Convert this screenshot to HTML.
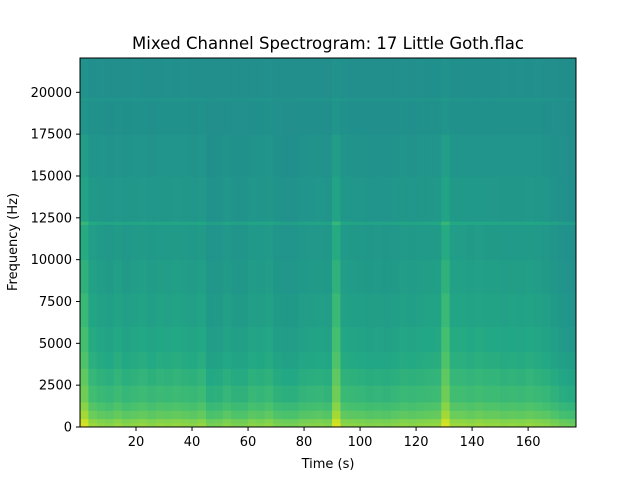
<!DOCTYPE html>
<html><head><meta charset="utf-8"><style>
body{margin:0;background:#fff;font-family:"Liberation Sans","DejaVu Sans",sans-serif}
svg text{font-family:"DejaVu Sans","Liberation Sans",sans-serif;fill:#000}
</style></head><body>
<svg id="chart" width="640" height="480" viewBox="0 0 640 480">
<rect width="640" height="480" fill="#fff"/>
<text x="328" y="49" font-size="16.5" text-anchor="middle">Mixed Channel Spectrogram: 17 Little Goth.flac</text>
<g id="cells"></g>
<rect x="80" y="58" width="496" height="369" fill="none" stroke="#000" stroke-width="1"/>
<g id="axes"></g>
<text x="328" y="468" font-size="13" text-anchor="middle">Time (s)</text>
<text transform="translate(17,242) rotate(-90)" font-size="13" text-anchor="middle">Frequency (Hz)</text>
</svg>
<script>
const timeLevel=[1.0,0.55,0.45,0.4,0.5,0.4,0.45,0.5,0.42,0.48,0.45,0.5,0.45,0.42,0.5,0.25,0.28,0.4,0.3,0.3,0.42,0.38,0.45,0.3,0.25,0.25,0.35,0.38,0.4,0.35,1.0,0.45,0.42,0.4,0.35,0.38,0.35,0.4,0.45,0.42,0.45,0.48,0.5,1.0,0.55,0.55,0.5,0.55,0.5,0.5,0.45,0.48,0.45,0.5,0.45,0.4,0.3,0.2,0.15];
const freqEdges=[0,250,500,1000,1500,2500,3500,4500,6000,8000,10000,12100,12300,15000,17500,19500,19700,22050];
const freqBase=[0.74,0.72,0.66,0.62,0.58,0.55,0.52,0.5,0.49,0.48,0.48,0.53,0.48,0.48,0.485,0.5,0.485];
const freqGain=[0.2,0.2,0.2,0.2,0.2,0.2,0.2,0.2,0.18,0.16,0.13,0.13,0.1,0.07,0.03,0.03,0.02];
const xTicks=[20,40,60,80,100,120,140,160];
const yTicks=[0,2500,5000,7500,10000,12500,15000,17500,20000];
const binSec=3, tMax=177.1, fMax=22050;
const X=t=>80+t/tMax*496, Y=f=>427-f/fMax*369;
const V=[[68,1,84],[72,36,117],[65,68,135],[53,95,141],[42,120,142],[33,145,140],[34,168,132],[68,191,112],[122,209,81],[189,223,38],[253,231,37]];
function vir(v){v=Math.max(0,Math.min(1,v))*10;const i=Math.min(9,Math.floor(v)),f=v-i;const a=V[i],b=V[i+1];return `rgb(${a.map((c,k)=>Math.round(c+(b[k]-c)*f)).join(',')})`;}
const ns='http://www.w3.org/2000/svg', g=document.getElementById('cells');
timeLevel.forEach((tl,i)=>{
  const t0=i*binSec,t1=Math.min(tMax,(i+1)*binSec);
  for(let j=0;j<freqBase.length;j++){
    const r=document.createElementNS(ns,'rect');
    
    
    const x0=X(t0),x1=X(t1),y0=Y(freqEdges[j+1]),y1=Y(freqEdges[j]);
    r.setAttribute('x',x0);r.setAttribute('y',y0);
    r.setAttribute('width',x1-x0+0.5);r.setAttribute('height',y1-y0+0.5);
    r.setAttribute('fill',vir(freqBase[j]+tl*freqGain[j]));
    g.appendChild(r);
  }
});
const ax=document.getElementById('axes');
xTicks.forEach(t=>{
  const l=document.createElementNS(ns,'line');
  
  
  l.setAttribute('x1',X(t));l.setAttribute('x2',X(t));l.setAttribute('y1',427);l.setAttribute('y2',431);l.setAttribute('stroke','#000');
  ax.appendChild(l);
  const tx=document.createElementNS(ns,'text');
  
  
  tx.setAttribute('x',X(t));tx.setAttribute('y',446);tx.setAttribute('font-size','13');tx.setAttribute('text-anchor','middle');
  tx.textContent=t;ax.appendChild(tx);
});
yTicks.forEach(f=>{
  const l=document.createElementNS(ns,'line');
  
  
  l.setAttribute('x1',76);l.setAttribute('x2',80);l.setAttribute('y1',Y(f));l.setAttribute('y2',Y(f));l.setAttribute('stroke','#000');
  ax.appendChild(l);
  const tx=document.createElementNS(ns,'text');
  
  
  tx.setAttribute('x',72);tx.setAttribute('y',Y(f)+4.5);tx.setAttribute('font-size','13');tx.setAttribute('text-anchor','end');
  tx.textContent=f;ax.appendChild(tx);
});
</script>
</body></html>
